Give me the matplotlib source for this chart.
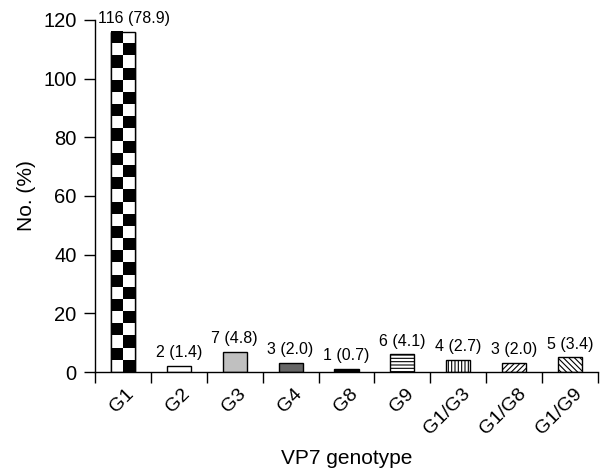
import numpy as np
import matplotlib
matplotlib.use("Agg")
import matplotlib.pyplot as plt
import matplotlib.transforms as mtrans

plt.rcParams['font.family'] = ['Liberation Sans', 'DejaVu Sans']
plt.rcParams['hatch.linewidth'] = 0.8

genotypes = ["G1", "G2", "G3", "G4", "G8", "G9", "G1/G3", "G1/G8", "G1/G9"]
counts = [116, 2, 7, 3, 1, 6, 4, 3, 5]
percents = [78.9, 1.4, 4.8, 2.0, 0.7, 4.1, 2.7, 2.0, 3.4]
fills = ["white", "white", "#c0c0c0", "#666666", "black", "white", "white", "white", "white"]
hatches = [None, None, None, None, None, "-----", "|||||", "//////", "\\\\\\\\\\\\"]

fig = plt.figure(figsize=(6, 4.71), dpi=100)
ax = fig.add_axes([0.158, 0.21, 0.839, 0.748])

x = np.arange(len(genotypes))
bars = ax.bar(x, counts, width=0.43, color=fills, edgecolor="black", linewidth=1.0)
for b, h in zip(bars, hatches):
    if h:
        b.set_hatch(h)

# checkerboard fill for G1 (bottom row: white left, black right)
g1 = bars[0]
rows = 28
checker = np.indices((rows, 2)).sum(axis=0) % 2
ax.imshow(checker, cmap="gray_r", interpolation="nearest", aspect="auto",
          extent=[g1.get_x(), g1.get_x() + g1.get_width(), 0, g1.get_height()],
          origin="lower", zorder=2)
ax.add_patch(plt.Rectangle((g1.get_x(), 0), g1.get_width(), g1.get_height(),
                           fill=False, edgecolor="black", linewidth=1.0, zorder=3))

# value labels; the first one is nudged right to clear the y axis
for i, (xi, c, p) in enumerate(zip(x, counts, percents)):
    nudge = mtrans.ScaledTranslation(11 / 100 if i == 0 else 0, 0, fig.dpi_scale_trans)
    ax.text(xi, c + 2.0, f"{c} ({p:.1f})", ha="center", va="bottom", fontsize=11.5,
            transform=ax.transData + nudge)

ax.set_xlim(-0.5, len(genotypes) - 0.5)
ax.set_ylim(0, 120)
ax.set_yticks(range(0, 121, 20))
ax.set_xticks(np.arange(-0.5, len(genotypes) - 0.4, 1))
ax.set_xticklabels([])

# rotated category labels, placed by hand under each bar
offset = mtrans.ScaledTranslation(3 / 100, -13 / 100, fig.dpi_scale_trans)
for xi, g in zip(x, genotypes):
    ax.text(xi, 0, g, transform=ax.get_xaxis_transform() + offset,
            rotation=45, ha="right", va="top", rotation_mode="anchor", fontsize=14)

ax.tick_params(axis="x", which="major", length=8, width=1, direction="out")
ax.tick_params(axis="y", length=8, width=1, labelsize=14.5, pad=5)
for s in ["top", "right"]:
    ax.spines[s].set_visible(False)
ax.spines["left"].set_linewidth(1)
ax.spines["bottom"].set_linewidth(1)

ax.set_ylabel("No. (%)", fontsize=15, labelpad=5)
ax.set_xlabel("VP7 genotype", fontsize=15, va="center")
ax.xaxis.set_label_coords(0.5, -0.245)

fig.savefig("out.png", dpi=100)
